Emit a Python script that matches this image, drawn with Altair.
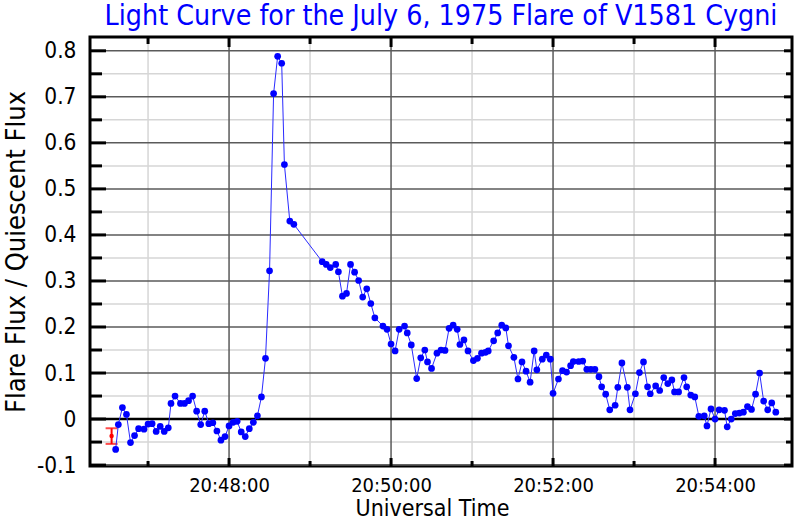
import altair as alt
import pandas as pd

# ---------------- data ----------------
times_rise = ["20:46:36", "20:46:38", "20:46:41", "20:46:44", "20:46:47", "20:46:50", "20:46:53", "20:46:57",
              "20:47:00", "20:47:03", "20:47:06", "20:47:09", "20:47:12", "20:47:15", "20:47:17", "20:47:20",
              "20:47:24", "20:47:27", "20:47:30", "20:47:33", "20:47:36", "20:47:39", "20:47:42", "20:47:45",
              "20:47:48", "20:47:51", "20:47:54", "20:47:57", "20:48:00", "20:48:03", "20:48:06", "20:48:09",
              "20:48:12", "20:48:15", "20:48:18", "20:48:21", "20:48:24", "20:48:27", "20:48:30", "20:48:33",
              "20:48:36", "20:48:39", "20:48:41", "20:48:45", "20:48:48"]
flux_rise = [-0.066, -0.012, 0.025, 0.010, -0.051, -0.036, -0.021, -0.022, -0.011, -0.010, -0.027, -0.016,
             -0.027, -0.019, 0.034, 0.050, 0.034, 0.034, 0.040, 0.050, 0.017, -0.012, 0.017, -0.010, -0.008,
             -0.026, -0.046, -0.038, -0.015, -0.007, -0.005, -0.028, -0.038, -0.021, -0.007, 0.007, 0.048,
             0.132, 0.322, 0.707, 0.788, 0.773, 0.553, 0.430, 0.423]

times_decay = ["20:49:09", "20:49:12", "20:49:15", "20:49:19", "20:49:21", "20:49:24", "20:49:27", "20:49:30",
               "20:49:33", "20:49:36", "20:49:39", "20:49:42", "20:49:45", "20:49:48"]
flux_decay = [0.342, 0.336, 0.329, 0.336, 0.320, 0.267, 0.273, 0.336, 0.319, 0.301, 0.265, 0.283, 0.251, 0.220]

times_tail = ["20:49:54", "20:49:57", "20:50:00", "20:50:03", "20:50:06", "20:50:10", "20:50:12", "20:50:15",
              "20:50:19", "20:50:22", "20:50:25", "20:50:27", "20:50:30", "20:50:34", "20:50:37", "20:50:40",
              "20:50:43", "20:50:46", "20:50:49", "20:50:51", "20:50:54", "20:50:57", "20:51:01", "20:51:04",
              "20:51:07", "20:51:10", "20:51:12", "20:51:16", "20:51:19", "20:51:22", "20:51:25", "20:51:27",
              "20:51:31", "20:51:34", "20:51:37", "20:51:40", "20:51:43", "20:51:46", "20:51:48", "20:51:52",
              "20:51:55", "20:51:58", "20:52:00", "20:52:04", "20:52:07", "20:52:10", "20:52:13", "20:52:15",
              "20:52:19", "20:52:22", "20:52:25", "20:52:28", "20:52:31", "20:52:34", "20:52:36", "20:52:39",
              "20:52:42", "20:52:46", "20:52:48", "20:52:51", "20:52:55", "20:52:57", "20:53:01", "20:53:04",
              "20:53:07", "20:53:10", "20:53:12", "20:53:16", "20:53:19", "20:53:22", "20:53:25", "20:53:28",
              "20:53:30", "20:53:33", "20:53:37", "20:53:39", "20:53:42", "20:53:45", "20:53:48", "20:53:52",
              "20:53:54", "20:53:57", "20:54:00", "20:54:03", "20:54:07", "20:54:09", "20:54:12", "20:54:15",
              "20:54:18", "20:54:21", "20:54:24", "20:54:27", "20:54:30", "20:54:33", "20:54:36", "20:54:39",
              "20:54:42", "20:54:45"]
flux_tail = [0.202, 0.195, 0.163, 0.148, 0.195, 0.202, 0.187, 0.161, 0.088, 0.133,
             0.150, 0.124, 0.110, 0.143, 0.150, 0.149, 0.197, 0.204, 0.195, 0.162,
             0.172, 0.148, 0.127, 0.132, 0.143, 0.145, 0.148, 0.170, 0.187, 0.204,
             0.198, 0.159, 0.134, 0.087, 0.124, 0.104, 0.080, 0.148, 0.107, 0.130,
             0.139, 0.130, 0.056, 0.087, 0.105, 0.102, 0.116, 0.125, 0.125, 0.126,
             0.108, 0.108, 0.108, 0.092, 0.070, 0.054, 0.020, 0.030, 0.069, 0.122,
             0.069, 0.020, 0.055, 0.101, 0.124, 0.070, 0.055, 0.072, 0.062, 0.090,
             0.077, 0.085, 0.059, 0.059, 0.090, 0.070, 0.052, 0.048, 0.006, 0.007,
             -0.015, 0.022, 0.000, 0.020, 0.019, -0.017, 0.000, 0.012, 0.013, 0.015,
             0.027, 0.021, 0.054, 0.100, 0.039, 0.020, 0.035, 0.015]

# typical error bar
err_time = ["20:46:33"]
err_mid = [-0.037]
err_lo = [-0.054]
err_hi = [-0.020]

x_range = ["20:46:17", "20:54:57"]
y_range = [-0.102, 0.83]
x_major = ["20:48:00", "20:50:00", "20:52:00", "20:54:00"]
x_minor = ["20:47:00", "20:49:00", "20:51:00", "20:53:00"]
y_major = [-0.1, 0.0, 0.1, 0.2, 0.3, 0.4, 0.5, 0.6, 0.7, 0.8]
y_minor = [-0.05, 0.05, 0.15, 0.25, 0.35, 0.45, 0.55, 0.65, 0.75]

DAY = "1975-07-06T"


def iso(t):
    return DAY + t + "Z"


def dt(t):
    h, m, s = (int(p) for p in t.split(":"))
    return alt.DateTime(year=1975, month=7, date=6, hours=h, minutes=m, seconds=s, utc=True)


df = pd.DataFrame({
    "t": [iso(t) for t in times_rise + times_decay + times_tail],
    "v": flux_rise + flux_decay + flux_tail,
})
err_df = pd.DataFrame({"t": [iso(t) for t in err_time], "mid": err_mid, "lo": err_lo, "hi": err_hi})
xmaj_df = pd.DataFrame({"t": [iso(t) for t in x_major]})
xmin_df = pd.DataFrame({"t": [iso(t) for t in x_minor]})
ymaj_df = pd.DataFrame({"v": [v for v in y_major if v != 0]})
ymin_df = pd.DataFrame({"v": y_minor})
yall_df = pd.DataFrame({"v": y_major})
zero_df = pd.DataFrame({"v": [0.0]})

W, H = 702, 429
FONT = "DejaVu Sans Condensed, DejaVu Sans"

xscale = alt.Scale(type="utc", domain=[dt(x_range[0]), dt(x_range[1])])
yscale = alt.Scale(domain=y_range, nice=False, zero=False)

XAX = alt.Axis(
    values=[dt(t) for t in x_major], format="%H:%M:%S", title="Universal Time",
    tickSize=0, labelPadding=9, grid=False, domain=False, labelFlush=False,
    labelFont=FONT, labelFontSize=20, titleFont=FONT, titleFontSize=23,
    titleFontWeight="normal", titlePadding=2, titleX=342, titleAlign="center",
    labelColor="black", titleColor="black")
YAX = alt.Axis(
    values=y_major, format=".1~f", labelExpr="replace(datum.label, '\u2212', '-')",
    title="Flare Flux / Quiescent Flux",
    tickSize=0, labelPadding=14, grid=False, domain=False,
    labelFont=FONT, labelFontSize=22.5, titleFont=FONT, titleFontSize=27,
    titleFontWeight="normal", titlePadding=6, labelColor="black", titleColor="black")


def X(field="t"):
    return alt.X(field + ":T", scale=xscale, axis=XAX)


def Y(field="v"):
    return alt.Y(field + ":Q", scale=yscale, axis=YAX)


grid_y_minor = alt.Chart(ymin_df).mark_rule(color="#d6d6d6", strokeWidth=1.5).encode(y=Y())
grid_x_minor = alt.Chart(xmin_df).mark_rule(color="#d6d6d6", strokeWidth=1.5).encode(x=X())
grid_y_major = alt.Chart(ymaj_df).mark_rule(color="#5a5a5a", strokeWidth=1.5).encode(y=Y())
grid_x_major = alt.Chart(xmaj_df).mark_rule(color="#5a5a5a", strokeWidth=1.5).encode(x=X())
zero_line = alt.Chart(zero_df).mark_rule(color="black", strokeWidth=2.5).encode(y=Y())

# inward ticks on all four sides
tick_left_major = alt.Chart(yall_df).mark_rule(color="black", strokeWidth=3).encode(
    y=Y(), x=alt.value(0), x2=alt.value(16))
tick_left_minor = alt.Chart(ymin_df).mark_rule(color="black", strokeWidth=3).encode(
    y=Y(), x=alt.value(0), x2=alt.value(12))
tick_right_major = alt.Chart(yall_df).mark_rule(color="black", strokeWidth=3).encode(
    y=Y(), x=alt.value(W), x2=alt.value(W - 8))
tick_right_minor = alt.Chart(ymin_df).mark_rule(color="black", strokeWidth=3).encode(
    y=Y(), x=alt.value(W), x2=alt.value(W - 6))
tick_top_major = alt.Chart(xmaj_df).mark_rule(color="black", strokeWidth=3).encode(
    x=X(), y=alt.value(0), y2=alt.value(10))
tick_top_minor = alt.Chart(xmin_df).mark_rule(color="black", strokeWidth=3).encode(
    x=X(), y=alt.value(0), y2=alt.value(7))
tick_bot_major = alt.Chart(xmaj_df).mark_rule(color="black", strokeWidth=3).encode(
    x=X(), y=alt.value(H), y2=alt.value(H - 8))
tick_bot_minor = alt.Chart(xmin_df).mark_rule(color="black", strokeWidth=3).encode(
    x=X(), y=alt.value(H), y2=alt.value(H - 5))

line = alt.Chart(df).mark_line(color="#2a2aff", strokeWidth=1).encode(x=X(), y=Y())
points = alt.Chart(df).mark_circle(color="#0000ff", size=45, opacity=1).encode(x=X(), y=Y())

err_rule = alt.Chart(err_df).mark_rule(color="#ff0000", strokeWidth=2).encode(
    x=X(), y=Y("lo"), y2="hi:Q")
err_cap_lo = alt.Chart(err_df).mark_tick(color="#ff0000", orient="horizontal", size=12, thickness=2).encode(
    x=X(), y=Y("lo"))
err_cap_hi = alt.Chart(err_df).mark_tick(color="#ff0000", orient="horizontal", size=12, thickness=2).encode(
    x=X(), y=Y("hi"))
err_pt = alt.Chart(err_df).mark_circle(color="#ff0000", size=20, opacity=1).encode(
    x=X(), y=Y("mid"))

chart = alt.layer(
    grid_y_minor, grid_x_minor, grid_y_major, grid_x_major, zero_line,
    tick_left_major, tick_left_minor, tick_right_major, tick_right_minor,
    tick_top_major, tick_top_minor, tick_bot_major, tick_bot_minor,
    err_rule, err_cap_lo, err_cap_hi, err_pt,
    line, points,
).properties(
    width=W, height=H,
    title=alt.TitleParams("Light Curve for the July 6, 1975 Flare of V1581 Cygni",
                          font=FONT, fontSize=28.3, fontWeight="normal", color="#0000ff",
                          anchor="middle", offset=4),
    autosize=alt.AutoSizeParams(type="none"),
    padding={"left": 90, "top": 37, "right": 8, "bottom": 54},
    background="white",
).configure_view(stroke="black", strokeWidth=3)

chart.save("out.html", embed_options={"renderer": "svg", "actions": False})
